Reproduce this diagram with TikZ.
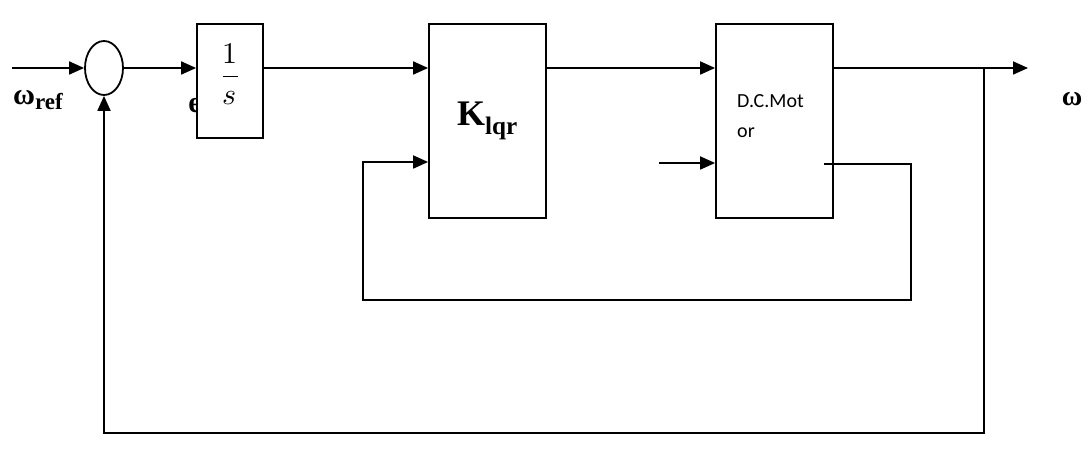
\documentclass[tikz,border=0pt]{standalone}
\usepackage{fontspec}
\usepackage{unicode-math}
\setmainfont{Liberation Serif}
\setmathfont{Latin Modern Math}
\newfontfamily\motorfont{Carlito}
\usetikzlibrary{arrows.meta,shapes.geometric}

\begin{document}
\begin{tikzpicture}[x=1pt,y=-1pt,line join=miter,>={Triangle[length=15pt,width=13pt]},
  blk/.style={draw,line width=1.8pt,fill=white,inner sep=0pt},
  sig/.style={line width=1.8pt,->}]
  \useasboundingbox (0,0) rectangle (1089,462);
  % e sits under the integrator box
  \node[font=\fontsize{30}{34}\selectfont\bfseries] (eLbl) at (195,106) {e};
  \node[blk,ellipse,minimum width=38pt,minimum height=54pt] (sum) at (104,68) {};
  \node[blk,minimum width=66pt,minimum height=114pt] (integ) at (230,81) {};
  \node[font=\fontsize{30}{34}\selectfont] (frac) at (230,74) {$\displaystyle\frac{1}{s}$};
  \node[blk,minimum width=117pt,minimum height=194pt,
        font=\fontsize{36}{40}\selectfont\bfseries] (klqr) at (487.5,121) {K\textsubscript{lqr}};
  \node[blk,minimum width=117pt,minimum height=194pt] (motor) at (774.5,121) {};
  \node[font=\motorfont\fontsize{20}{30}\selectfont,align=left,anchor=north west,inner sep=0pt]
    (motorTxt) at (737,94) {D.C.Mot\\or};
  \node[font=\fontsize{30}{34}\selectfont\bfseries] (wref) at (38,100)
    {ω\raisebox{-0.18em}{\fontsize{23}{26}\selectfont ref}};
  \node[font=\fontsize{28}{32}\selectfont\bfseries] (wout) at (1072,99) {ω};
  % signal path
  \coordinate (in) at (12,68);
  \coordinate (branch) at (984,68);
  \coordinate (out) at (1028,68);
  \coordinate (fbk) at (984,433);
  \draw[sig] (in) -- (sum.west);
  \draw[sig] (sum.east) -- (sum.east -| integ.west);
  \draw[sig] (integ.east |- sum.east) -- (klqr.west |- sum.east);
  \draw[sig] (klqr.east |- sum.east) -- (motor.west |- sum.east);
  \draw[sig] (motor.east |- sum.east) -- (out);
  \draw[sig] (branch) -- (fbk) -| (sum.south);
  % inner state loop
  \coordinate (tap) at (824,164);
  \coordinate (lpR) at (911,300);
  \coordinate (lpTop) at (363,162);
  \draw[sig] (tap) -| (lpR) -| (lpTop) -- (lpTop -| klqr.west);
  \coordinate (min) at (659,163);
  \draw[sig] (min) -- (min -| motor.west);
\end{tikzpicture}
\end{document}
